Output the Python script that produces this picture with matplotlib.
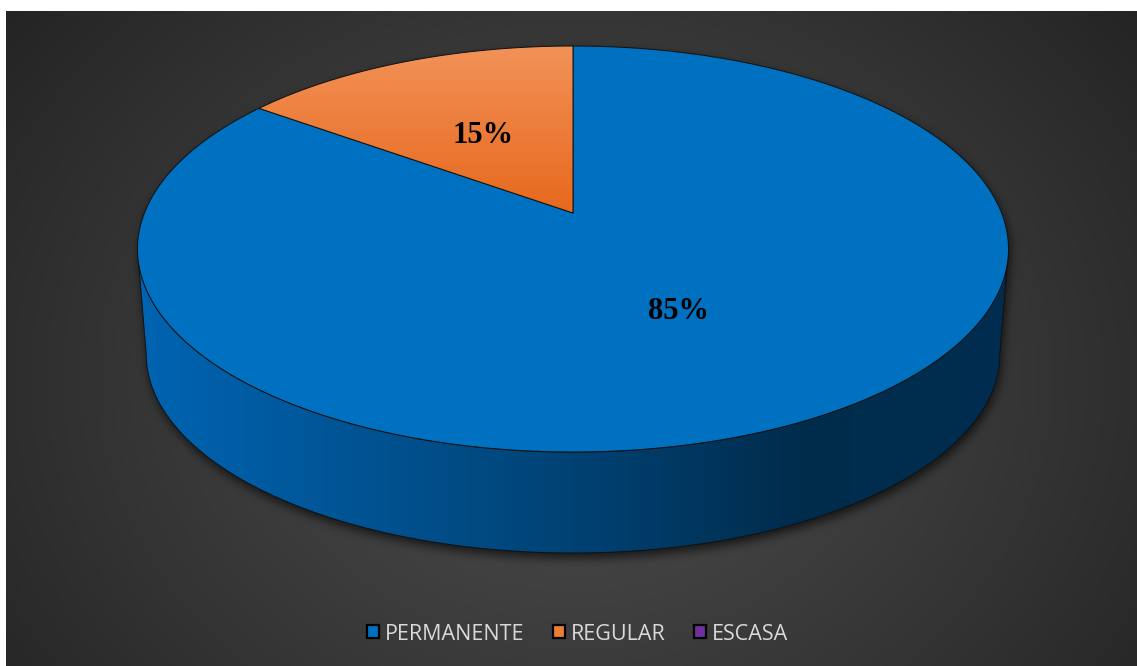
import numpy as np
import matplotlib.pyplot as plt
from matplotlib.patches import Polygon, Patch
from matplotlib.path import Path

# Chart data
categories = ["PERMANENTE", "REGULAR", "ESCASA"]
values = [85, 15, 0]
colors = ["#0070C0", "#ED7D31", "#7030A0"]

W, H = 1137, 666
fig = plt.figure(figsize=(W / 100, H / 100), dpi=100, facecolor="white")
ax = fig.add_axes([0, 0, 1, 1])
ax.set_xlim(0, W)
ax.set_ylim(H, 0)
ax.axis("off")

# perspective disc: centre, radii and depth factor
CX, CY_TOP, CY_BOT = 573.0, 213.0, 318.8
A, B, K = 428.6, 196.6, 0.1774
S_BOT = 0.98


def project(phi, cy, s=1.0, r=1.0):
    p = np.radians(phi)
    u, v = r * np.sin(p), r * np.cos(p)
    d = 1 + K * v
    return np.column_stack([CX + s * A * u / d, cy - s * B * v / d])


limb = np.degrees(np.arccos(-K))

# ---- background with radial gradient and soft shadow of the disc ----
yy, xx = np.mgrid[0:H, 0:W] + 0.5
d = np.sqrt(((xx - 575) / 720) ** 2 + ((yy - 380) / 600) ** 2)
shade = 76 - 40 * np.clip(d, 0, 1) ** 1.15

sil = np.vstack([
    project(np.linspace(-limb, limb, 300), CY_TOP),
    project(np.linspace(limb, 360 - limb, 300), CY_BOT, S_BOT),
])
mask = Path(sil + [2, 5]).contains_points(
    np.column_stack([xx.ravel(), yy.ravel()])).reshape(H, W).astype(float)
kx = np.arange(-15, 16)
kern = np.exp(-kx ** 2 / (2 * 5.0 ** 2))
kern /= kern.sum()
mask = np.apply_along_axis(lambda r: np.convolve(r, kern, mode="same"), 1, mask)
mask = np.apply_along_axis(lambda c: np.convolve(c, kern, mode="same"), 0, mask)
shade = shade * (1 - 0.65 * mask)

bg = np.repeat((shade / 255.0)[:, :, None], 3, axis=2)
bg[(xx < 6) | (yy < 11)] = 1.0
ax.imshow(bg, extent=[0, W, H, 0], interpolation="nearest", zorder=0)

# ---- side wall ----
side = np.vstack([
    project(np.linspace(limb, 360 - limb, 300), CY_TOP),
    project(np.linspace(360 - limb, limb, 300), CY_BOT, S_BOT),
])
side_patch = Polygon(side, closed=True, facecolor="none", edgecolor="#111111",
                     lw=0.7, zorder=3)
ax.add_patch(side_patch)
gx = np.linspace(0, W, W)
stops_x = [140, 480, 640, 800, 1010]
stops_c = np.array([(0, 100, 178), (0, 74, 130), (0, 60, 105),
                    (0, 44, 76), (0, 46, 80)]) / 255.0
grad = np.stack([np.interp(gx, stops_x, stops_c[:, i]) for i in range(3)], axis=-1)
im = ax.imshow(grad[None, :, :], extent=[0, W, 560, 240], aspect="auto",
               interpolation="bilinear", zorder=2)
im.set_clip_path(side_patch)

# ---- top surface slices ----
shares = np.array(values, dtype=float) / sum(values)
bounds = np.concatenate([[0], np.cumsum(shares) * 360])
for i, (cat, col) in enumerate(zip(categories, colors)):
    a0, a1 = bounds[i], bounds[i + 1]
    if a1 - a0 <= 0:
        continue
    arc = project(np.linspace(a0, a1, 400), CY_TOP)
    pts = np.vstack([[CX, CY_TOP], arc]) if a1 - a0 < 360 else arc
    wedge = Polygon(pts, closed=True, facecolor=col if i != 1 else "none",
                    edgecolor="#111111", lw=0.7, zorder=4 + i)
    ax.add_patch(wedge)
    if i == 1:
        gy = np.linspace(0, 1, 200)[:, None]
        top_c = np.array([242, 146, 88]) / 255.0
        bot_c = np.array([231, 104, 28]) / 255.0
        og = top_c + (bot_c - top_c) * gy
        ogim = ax.imshow(og[:, None, :].repeat(2, axis=1),
                         extent=[pts[:, 0].min(), pts[:, 0].max(),
                                 pts[:, 1].max(), pts[:, 1].min()],
                         aspect="auto", interpolation="bilinear", zorder=4 + i - 0.5)
        ogim.set_clip_path(wedge)
    mid = (a0 + a1) / 2
    lx, ly = project(mid, CY_TOP, r=0.5)[0]
    ax.text(lx, ly, f"{values[i]}%", ha="center", va="center_baseline",
            fontsize=22, fontweight="bold", family="Liberation Serif",
            color="black", zorder=10)

# ---- legend ----
handles = [Patch(facecolor=c, edgecolor="black", lw=1.6) for c in colors]
leg = fig.legend(handles, categories, loc="center", bbox_to_anchor=(0.508, 0.048),
                 ncol=3, frameon=False, handlelength=0.55, handleheight=0.55,
                 handletextpad=0.3, columnspacing=1.3,
                 prop={"family": "Open Sans", "size": 15.5})
for t in leg.get_texts():
    t.set_color("#d9d9d9")

fig.savefig("out.png", dpi=100, facecolor="white")
